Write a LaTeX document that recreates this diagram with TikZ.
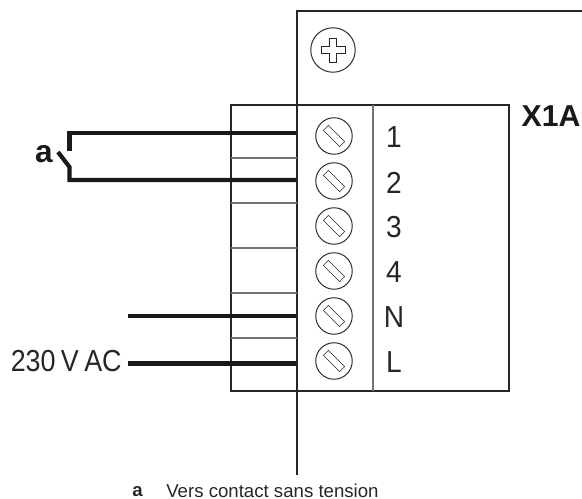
\documentclass[tikz,border=0pt]{standalone}
\usepackage{graphicx}
\usepackage{fontspec}
\setmainfont{Liberation Sans}
\newcommand{\tallfig}[1]{\scalebox{1}[1.08]{#1}}
\tikzset{
    panel/.style={draw=black!85, line width=0.7pt},
    divider/.style={draw=black!55, line width=0.6pt},
    wire/.style={draw=black!90, line width=2.4pt},
    screw/.style={circle, draw=black!85, line width=0.55pt, minimum size=0.73cm, inner sep=0pt},
    bigscrew/.style={circle, draw=black!85, line width=0.55pt, minimum size=0.89cm, inner sep=0pt},
    slot/.style={draw=black!85, line width=0.35pt, minimum width=0.46cm, minimum height=0.14cm, inner sep=0pt, rotate=-45},
    pinlabel/.style={font=\fontsize{16}{18}\selectfont, text=black!85, inner sep=0pt},
    boldlabel/.style={font=\fontsize{18}{20}\selectfont\bfseries, text=black!90, inner sep=0pt}
}
\begin{document}
\begin{tikzpicture}[x=0.02cm, y=-0.02cm]

    % Page size
    \useasboundingbox (0,0) rectangle (582,499);

    % Housing of the board
    \coordinate (T) at (582,11);
    \coordinate (C) at (297,11);
    \coordinate (E) at (297,475);
    \draw[panel] (T) -- (C) -- (E);

    % Terminal block
    \draw[panel] (231,105) rectangle (509,391);
    \draw[divider] (373,105) -- (373,391);
    \foreach \y in {158,203,248,293,338}
        \draw[divider] (231,\y) -- (297,\y);

    % Fixing screw
    \node[bigscrew] (fix) at (333,50) {};
    \draw[line width=0.4pt, draw=black!85] (fix.center) ++(-3.5,-3.5) -- ++(0,-8.5) -- ++(7,0) -- ++(0,8.5)
        -- ++(8.5,0) -- ++(0,7) -- ++(-8.5,0) -- ++(0,8.5) -- ++(-7,0) -- ++(0,-8.5) -- ++(-8.5,0) -- ++(0,-7) -- cycle;

    % Terminal screws and their labels
    \foreach \name/\txt/\y in {s1/1/136,s2/2/181,s3/3/226,s4/4/271,sN/N/316,sL/L/361} {
        \node[screw] (\name) at (334,\y) {};
        \node[slot] at (\name) {};
        \node[pinlabel] (t\name) at (394,\y+1.5) {\tallfig{\txt}};
    }

    % Wires
    \coordinate (wN) at (128,316);
    \coordinate (wL) at (128,363.5);
    \draw[wire] (69.5,151) -- (69.5,133) -- (296,133);
    \draw[wire] (58,152) -- (69.5,167) -- (69.5,180) -- (296,180);
    \draw[wire] (wN) -- (296,316);
    \draw[wire] (wL) -- (296,363.5);

    % Labels
    \node[boldlabel] (a) at (44,154) {a};
    \node[boldlabel, font=\fontsize{17.2}{20}\selectfont\bfseries] (xa) at (551,116) {X1A};
    \node[pinlabel, font=\fontsize{15.3}{18}\selectfont, anchor=east] (ac) at (122,361) {\scalebox{1}[1.13]{\spaceskip=0.2em 230 V AC}};

    % Legend
    \node[font=\fontsize{10.6}{12}\selectfont\bfseries, text=black!85, inner sep=0pt] (la) at (137.5,492) {a};
    \node[font=\fontsize{10.6}{12}\selectfont, text=black!85, anchor=west, inner sep=0pt] (lt) at (166,491) {Vers contact sans tension};

\end{tikzpicture}
\end{document}
